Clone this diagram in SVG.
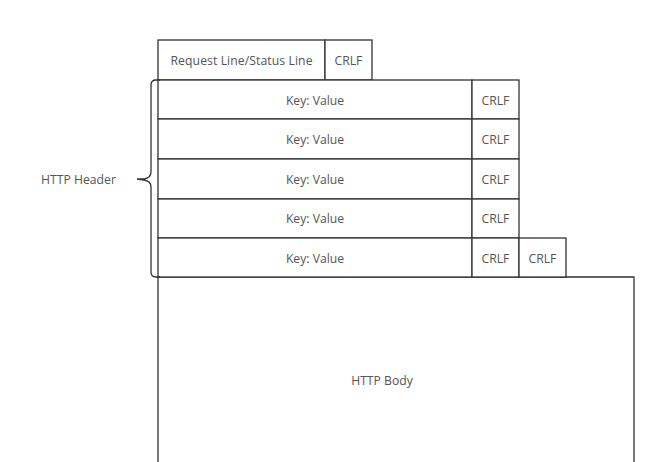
<svg xmlns="http://www.w3.org/2000/svg" width="672" height="462" viewBox="0 0 672 462">
<style>
.b{fill:#fff;stroke:#333;stroke-width:1.3}
.t{font-family:"Open Sans","Noto Sans",sans-serif;font-size:12.2px;fill:#555;text-anchor:middle;dominant-baseline:central}
</style>
<rect width="672" height="462" fill="#fff"/>
<g id="reqline"><rect class="b" x="158" y="40" width="167" height="40"/><text class="t" x="241.5" y="60" textLength="142">Request Line/Status Line</text></g>
<g id="reqcrlf"><rect class="b" x="325" y="40" width="47" height="40"/><text class="t" x="348.5" y="60">CRLF</text></g>
<g id="body"><path class="b" d="M158,470 V277 H634 V470"/><text class="t" x="382" y="380">HTTP Body</text></g>
<g id="kv1"><rect class="b" x="158" y="80" width="314" height="39"/><text class="t" x="315" y="100">Key: Value</text></g>
<g id="c1"><rect class="b" x="472" y="80" width="47" height="39"/><text class="t" x="495.5" y="100">CRLF</text></g>
<g id="kv2"><rect class="b" x="158" y="119" width="314" height="40"/><text class="t" x="315" y="139">Key: Value</text></g>
<g id="c2"><rect class="b" x="472" y="119" width="47" height="40"/><text class="t" x="495.5" y="139">CRLF</text></g>
<g id="kv3"><rect class="b" x="158" y="159" width="314" height="40"/><text class="t" x="315" y="179">Key: Value</text></g>
<g id="c3"><rect class="b" x="472" y="159" width="47" height="40"/><text class="t" x="495.5" y="179">CRLF</text></g>
<g id="kv4"><rect class="b" x="158" y="199" width="314" height="39"/><text class="t" x="315" y="218">Key: Value</text></g>
<g id="c4"><rect class="b" x="472" y="199" width="47" height="39"/><text class="t" x="495.5" y="218">CRLF</text></g>
<g id="kv5"><rect class="b" x="158" y="238" width="314" height="39"/><text class="t" x="315" y="258">Key: Value</text></g>
<g id="c5"><rect class="b" x="472" y="238" width="47" height="39"/><text class="t" x="495.5" y="258">CRLF</text></g>
<g id="c6"><rect class="b" x="519" y="238" width="47" height="39"/><text class="t" x="542.5" y="258">CRLF</text></g>
<g id="header"><path d="M160,80 H156 Q151,80 151,85 V172 Q151,178 144,179 L137,179 L144,180 Q151,181 151,187 V272 Q151,277 156,277 H160" fill="none" stroke="#333" stroke-width="1.3"/><text class="t" x="78.5" y="179">HTTP Header</text></g>
</svg>
